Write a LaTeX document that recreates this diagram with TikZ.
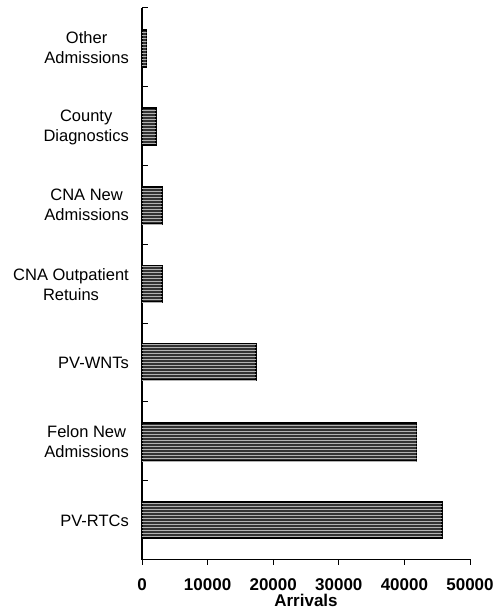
\documentclass[tikz,border=0pt]{standalone}
\usepackage{fontspec}
\setmainfont{Liberation Sans}
\usetikzlibrary{patterns}
\begin{document}
\begin{tikzpicture}[x=1pt,y=-1pt,
  barstyle/.style={draw=black,line width=1.4pt,fill=black!80,
    postaction={pattern=horizontal lines,pattern color=white!70!black}},
  catlabel/.style={anchor=east,align=center,font=\fontsize{16.5}{20}\selectfont,inner sep=0pt},
  ticklabel/.style={anchor=center,font=\fontsize{17}{18}\selectfont\bfseries,inner sep=0pt},
  axisline/.style={line width=1.2pt,black},
  tickline/.style={line width=1pt,black}]
\useasboundingbox (0,0) rectangle (496,612);
% axes
\coordinate (top) at (142,8);
\coordinate (origin) at (142,559.5);
\coordinate (xend) at (471,559.5);
\draw[axisline] (top) -- (origin) -- (xend);
% y ticks
\foreach \y in {8,87,166,244,323,401,480}{
  \draw[tickline] (142,\y) -- (148,\y);
}
% x ticks and labels
\foreach \v/\x in {0/142,10000/207.6,20000/273.2,30000/338.8,40000/404.4,50000/470}{
  \draw[tickline] (\x,559.5) -- (\x,565);
  \node[ticklabel] (t\v) at (\x,584.5) {\v};
}
\node[font=\fontsize{17}{18}\selectfont\bfseries,inner sep=0pt] (xlabel) at (306,600.5) {Arrivals};
% bars
\draw[barstyle] (142,30) rectangle (146.5,67);
\draw[barstyle] (142,108) rectangle (156,145);
\draw[barstyle] (142,187) rectangle (162,224);
\draw[barstyle] (142,266) rectangle (162,302);
\draw[barstyle] (142,344) rectangle (256,380);
\draw[barstyle] (142,423) rectangle (416.5,461);
\draw[barstyle] (142,502) rectangle (442,538);
% category labels
\node[catlabel] (c1) at (129,48) {Other\\Admissions};
\node[catlabel] (c2) at (129,127) {County\\Diagnostics};
\node[catlabel] (c3) at (129,205) {CNA New\\Admissions};
\node[catlabel] (c4) at (129,285) {CNA Outpatient\\Retuins};
\node[catlabel] (c5) at (129,363) {PV-WNTs};
\node[catlabel] (c6) at (129,442) {Felon New\\Admissions};
\node[catlabel] (c7) at (129,521) {PV-RTCs};
\end{tikzpicture}
\end{document}
